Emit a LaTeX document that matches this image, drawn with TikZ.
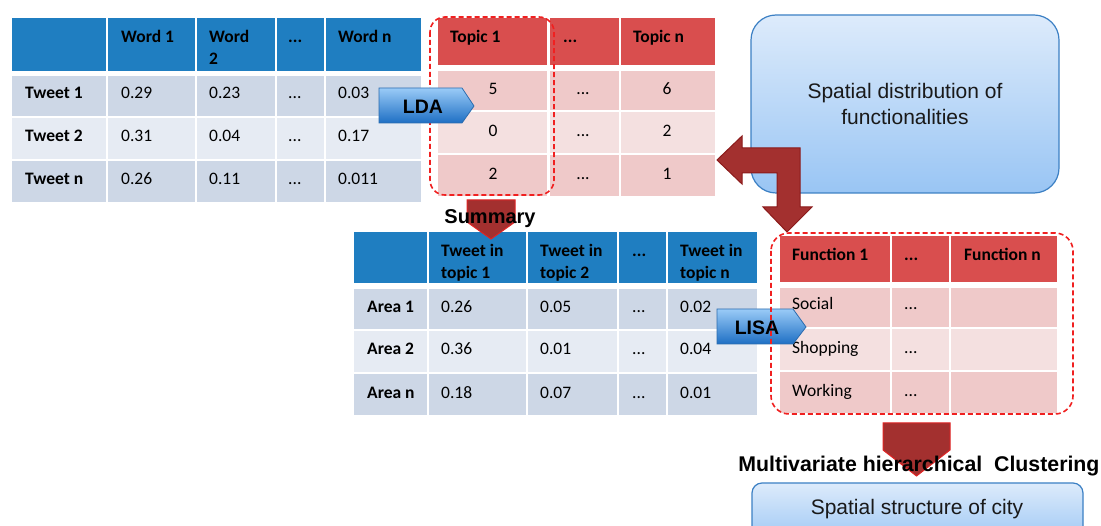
\documentclass[tikz,border=0pt]{standalone}
\usepackage{fontspec}
\setmainfont{Carlito}
\newfontfamily\arialf{Liberation Sans}
\definecolor{hdrblue}{HTML}{1F7EC1}
\definecolor{rowA}{HTML}{CDD7E6}
\definecolor{rowB}{HTML}{E6EBF3}
\definecolor{hdrred}{HTML}{D94E4E}
\definecolor{redA}{HTML}{EFC9C9}
\definecolor{redB}{HTML}{F4E0E0}
\definecolor{darkred}{HTML}{A3302F}
\definecolor{arrowline}{HTML}{8B1A1A}
\definecolor{brightred}{HTML}{E02424}
\definecolor{dashred}{HTML}{F02020}
\definecolor{boxtop}{HTML}{DDEBFB}
\definecolor{boxbot}{HTML}{99C5F4}
\definecolor{boxline}{HTML}{3C80C4}
\definecolor{arrtop}{HTML}{9ACBF7}
\definecolor{arrbot}{HTML}{1E6FC4}
\definecolor{arrline}{HTML}{2C6CAE}
\newcommand\cellbox[5]{\fill[#5] (#1,#2) rectangle (#3,#4);}
\tikzset{
  tx/.style={font=\fontsize{17.5}{20}\selectfont, inner sep=0pt, anchor=west, text height=11pt, text depth=3pt, yshift=-2.5pt},
  txb/.style={tx, font=\fontsize{17.5}{20}\selectfont\bfseries},
  txc/.style={tx, anchor=center},
  lbl/.style={font=\arialf\fontsize{19.5}{22}\selectfont\bfseries, inner sep=0pt},
  dashbox/.style={draw=dashred, line width=1.6pt, dash pattern=on 5pt off 3pt},
  bluearrow/.style={top color=arrtop, bottom color=arrbot, draw=arrline, line width=0.8pt},
  redarrow/.style={fill=darkred, draw=brightred, line width=1pt},
  bigbox/.style={draw=boxline, line width=1.2pt, top color=boxtop, bottom color=boxbot, inner sep=0pt}
}
\begin{document}
\begin{tikzpicture}[x=1pt,y=-1pt]
\clip (0,0) rectangle (1101,526);
\fill[white] (0,0) rectangle (1101,526);

% ---------- Table 1: words ----------
\foreach \a/\b in {12/106,108/195,197/275,277/324,326/421}{
  \cellbox{\a}{18}{\b}{71}{hdrblue}
  \cellbox{\a}{76}{\b}{116}{rowA}
  \cellbox{\a}{118}{\b}{159}{rowB}
  \cellbox{\a}{161}{\b}{202}{rowA}
}
\node[txb] (w1) at (121,36) {Word 1};
\node[txb] (w2a) at (209,36) {Word};
\node[txb] (w2b) at (209,58) {2};
\node[txb] (wd) at (288,36) {...};
\node[txb] (wn) at (338,36) {Word n};
\node[txb] (t1) at (25,92) {Tweet 1};
\node[txb] (t2) at (25,135) {Tweet 2};
\node[txb] (tn) at (25,178) {Tweet n};
\node[tx] (v11) at (121,92) {0.29};
\node[tx] (v12) at (209,92) {0.23};
\node[tx] (v13) at (288,92) {...};
\node[tx] (v14) at (338,92) {0.03};
\node[tx] (v21) at (121,135) {0.31};
\node[tx] (v22) at (209,135) {0.04};
\node[tx] (v23) at (288,135) {...};
\node[tx] (v24) at (338,135) {0.17};
\node[tx] (v31) at (121,178) {0.26};
\node[tx] (v32) at (209,178) {0.11};
\node[tx] (v33) at (288,178) {...};
\node[tx] (v34) at (338,178) {0.011};

% ---------- Table 2: topics ----------
\foreach \a/\b in {438/547,550/619,621/715}{
  \cellbox{\a}{18}{\b}{65}{hdrred}
  \cellbox{\a}{71}{\b}{110}{redA}
  \cellbox{\a}{112}{\b}{153}{redB}
  \cellbox{\a}{155}{\b}{196}{redA}
}
\node[txb] (tp1) at (450,36) {Topic 1};
\node[txb] (tpd) at (563,36) {...};
\node[txb] (tpn) at (633,36) {Topic n};
\node[txc] (p11) at (493,88) {5};
\node[txc] (p12) at (583,88) {...};
\node[txc] (p13) at (667,88) {6};
\node[txc] (p21) at (493,130) {0};
\node[txc] (p22) at (583,130) {...};
\node[txc] (p23) at (667,130) {2};
\node[txc] (p31) at (493,173) {2};
\node[txc] (p32) at (583,173) {...};
\node[txc] (p33) at (667,173) {1};

% ---------- Table 3: areas ----------
\foreach \a/\b in {354/427,429/526,528/617,619/666,668/757}{
  \cellbox{\a}{232}{\b}{283}{hdrblue}
  \cellbox{\a}{289}{\b}{329}{rowA}
  \cellbox{\a}{331}{\b}{372}{rowB}
  \cellbox{\a}{374}{\b}{415}{rowA}
}
\node[txb] (h1a) at (441,250) {Tweet in};
\node[txb] (h1b) at (441,272) {topic 1};
\node[txb] (h2a) at (540,250) {Tweet in};
\node[txb] (h2b) at (540,272) {topic 2};
\node[txb] (h3) at (632,250) {...};
\node[txb] (h4a) at (680,250) {Tweet in};
\node[txb] (h4b) at (680,272) {topic n};
\node[txb] (a1) at (367,306) {Area 1};
\node[txb] (a2) at (367,348) {Area 2};
\node[txb] (an) at (367,392) {Area n};
\node[tx] (q11) at (441,306) {0.26};
\node[tx] (q12) at (540,306) {0.05};
\node[tx] (q13) at (632,306) {...};
\node[tx] (q14) at (680,306) {0.02};
\node[tx] (q21) at (441,348) {0.36};
\node[tx] (q22) at (540,348) {0.01};
\node[tx] (q23) at (632,348) {...};
\node[tx] (q24) at (680,348) {0.04};
\node[tx] (q31) at (441,392) {0.18};
\node[tx] (q32) at (540,392) {0.07};
\node[tx] (q33) at (632,392) {...};
\node[tx] (q34) at (680,392) {0.01};

% ---------- Table 4: functions ----------
\foreach \a/\b in {780/890,892/949,951/1057}{
  \cellbox{\a}{236}{\b}{282}{hdrred}
  \cellbox{\a}{288}{\b}{327}{redA}
  \cellbox{\a}{329}{\b}{370}{redB}
  \cellbox{\a}{372}{\b}{413}{redA}
}
\node[txb] (f1) at (792,254) {Function 1};
\node[txb] (fd) at (904,254) {...};
\node[txb] (fn) at (964,254) {Function n};
\node[tx] (s1) at (792,303) {Social};
\node[tx] (s2) at (792,347) {Shopping};
\node[tx] (s3) at (792,390) {Working};
\node[tx] (d1) at (904,303) {...};
\node[tx] (d2) at (904,347) {...};
\node[tx] (d3) at (904,390) {...};

% ---------- boxes ----------
\node[bigbox, rounded corners=25pt, minimum width=308pt, minimum height=178pt,
      font=\arialf\fontsize{21}{26}\selectfont, align=center, text=black!90] (sd) at (905,104)
      {Spatial distribution of\\functionalities};
\node[bigbox, rounded corners=10pt, minimum width=331pt, minimum height=62pt] (ss) at (917.5,514) {};
\node[font=\arialf\fontsize{21}{24}\selectfont, inner sep=0pt, text=black!90] (sst) at (917,509) {Spatial structure of city};

% ---------- block arrows ----------
\path[redarrow, draw=arrowline] (717,160)--(742,136)--(742,148)--(800,148)--(800,207)--(812,207)
   --(787,232)--(763,207)--(777,207)--(777,173)--(742,173)--(742,184)--cycle;
\path[redarrow] (467,200)--(515,200)--(515,222)--(491,239)--(467,222)--cycle;
\path[redarrow] (883,423)--(950,423)--(950,450)--(916.5,476)--(883,450)--cycle;

\draw[dashbox, rounded corners=15pt] (430,17) rectangle (554,195);
\path[bluearrow] (379,88)--(462,88)--(474,106)--(462,123)--(379,123)--cycle;
\path[bluearrow] (717,309)--(793,309)--(806,327)--(793,344)--(717,344)--cycle;
\draw[dashbox, rounded corners=18pt] (771,233) rectangle (1073,414);

% ---------- labels ----------
\node[lbl] (lda) at (423,107) {LDA};
\node[lbl] (lisa) at (757,328) {LISA};
\node[lbl, font=\arialf\fontsize{20}{22}\selectfont\bfseries] (summ) at (490,219) {Summary};
\node[lbl, font=\arialf\fontsize{21.3}{24}\selectfont\bfseries] (mhc) at (919,466) {Multivariate hierarchical\ \ Clustering};
\end{tikzpicture}
\end{document}
